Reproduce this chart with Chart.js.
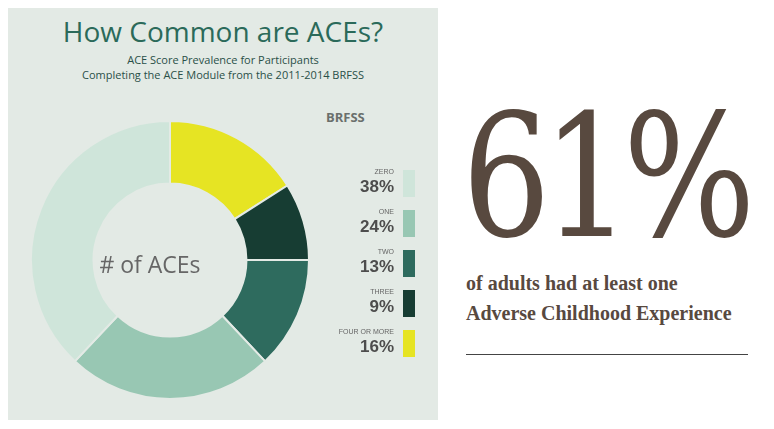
<!DOCTYPE html>
<html><head><meta charset="utf-8">
<script src="https://cdn.jsdelivr.net/npm/chart.js@4"></script>
<style>
body{margin:0;width:774px;height:429px;background:#fff;position:relative;font-family:"Open Sans",sans-serif;overflow:hidden}
#panel{position:absolute;left:8px;top:8px;width:430px;height:412px;background:#e3eae5}
.t{position:absolute;text-align:center}
#wrap{position:absolute;left:30px;top:120px;width:280px;height:280px}
.lg{position:absolute;right:0;text-align:right;color:#4d4d4d}
.lg small{display:block;font-size:7px;font-family:"Liberation Sans Narrow","Liberation Sans",sans-serif;color:#666}
.lg b{font-family:"Liberation Sans Narrow","Liberation Sans",sans-serif;font-size:17px}
.sw{position:absolute;width:12px;height:27px}
</style></head><body>
<div id="panel"></div>
<div class="t" style="left:8px;width:430px;top:12px;font-size:28px;color:#2b6a5a">How Common are ACEs?</div>
<div class="t" style="left:8px;width:430px;top:52px;font-size:11px;color:#2a5048;line-height:15px">ACE Score Prevalence for Participants<br>Completing the ACE Module from the 2011-2014 BRFSS</div>
<div style="position:absolute;left:326px;top:108px;font-size:13px;font-weight:bold;color:#6a6f6c">BRFSS</div>
<div id="wrap"><canvas id="c"></canvas></div>
<div class="t" style="left:30px;width:240px;top:248px;font-size:23px;color:#666">#&nbsp;of ACEs</div>
<div id="legend"></div>
<div style="position:absolute;left:462px;top:92px;font-family:'DejaVu Serif',serif;font-size:170px;color:#58493f;letter-spacing:-10px;line-height:1;transform:scaleX(0.82);transform-origin:left">61%</div>
<div style="position:absolute;left:466px;top:268px;font-family:'Liberation Serif',serif;font-weight:bold;font-size:20px;color:#58493f;line-height:30px">of adults had at least one<br>Adverse Childhood Experience</div>
<div style="position:absolute;left:466px;top:354px;width:282px;height:1px;background:#444"></div>
<script>
const categories = ['ZERO', 'ONE', 'TWO', 'THREE', 'FOUR OR MORE'];
const percents = [38, 24, 13, 9, 16];
const colors = ['#cfe5da', '#98c7b3', '#2e6b5e', '#173d33', '#e6e423'];
// chart order: clockwise from 12 o'clock starting with yellow
const order = [4, 3, 2, 1, 0];
new Chart(document.getElementById('c'), {
  type: 'doughnut',
  data: {
    labels: order.map(i => categories[i]),
    datasets: [{ data: order.map(i => percents[i]), backgroundColor: order.map(i => colors[i]), borderColor: '#e3eae5', borderWidth: 2 }]
  },
  options: { responsive: true, maintainAspectRatio: false, cutout: '55%', animation: false,
    plugins: { legend: { display: false }, tooltip: { enabled: false } } }
});
const lg = document.getElementById('legend');
categories.forEach((c, i) => {
  const y = 168 + i * 40;
  lg.insertAdjacentHTML('beforeend',
    `<div class="lg" style="left:300px;width:94px;top:${y}px"><small>${c}</small><b>${percents[i]}%</b></div>` +
    `<div class="sw" style="left:403px;top:${y + 2}px;background:${colors[i]}"></div>`);
});
</script>
</body></html>
